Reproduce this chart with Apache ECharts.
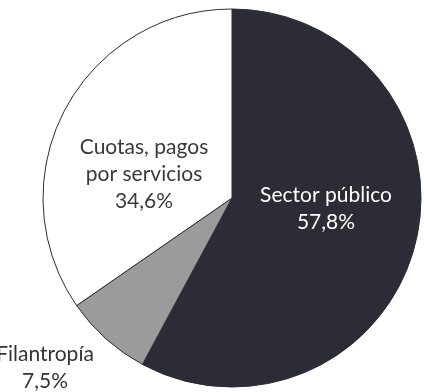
<!DOCTYPE html>
<html>
<head>
<meta charset="utf-8">
<script src="https://cdn.jsdelivr.net/npm/echarts@6/dist/echarts.min.js"></script>
<style>
  html, body { margin: 0; padding: 0; background: #fff; }
  #chart { width: 424px; height: 392px; }
</style>
</head>
<body>
<div id="chart"></div>
<script>
  // datos del gráfico (porcentajes)
  const categories = ['Sector público', 'Filantropía', 'Cuotas, pagos\npor servicios']
  const values = [57.8, 7.5, 34.6]
  const colors = ['#2b2c35', '#9b9b9b', '#ffffff']
  const labelColors = ['#ffffff', '#333333', '#3a3a3a']
  // centro de cada etiqueta
  const labelPos = [[326, 209], [45, 368], [144, 174]]

  let chart = echarts.init(document.getElementById('chart'))

  let data = categories.map((name, i) => {
    return {
      name: name,
      value: values[i],
      itemStyle: { color: colors[i] },
      label: { color: labelColors[i] }
    }
  })

  chart.setOption({
    animation: false,
    series: [
      {
        type: 'pie',
        center: [232, 198],
        radius: 189,
        startAngle: 90,
        clockwise: true,
        itemStyle: {
          borderColor: '#2b2c35',
          borderWidth: 1
        },
        label: {
          show: true,
          position: 'inside',
          fontFamily: 'Lato',
          fontSize: 21,
          lineHeight: 27,
          align: 'center',
          verticalAlign: 'middle',
          formatter: function (p) {
            return p.name + '\n' + String(p.value).replace('.', ',') + '%'
          }
        },
        labelLine: { show: false },
        labelLayout: function (params) {
          let pos = labelPos[params.dataIndex]
          return { x: pos[0], y: pos[1], align: 'center', verticalAlign: 'middle' }
        },
        emphasis: { disabled: true },
        data: data
      }
    ]
  })
</script>
</body>
</html>
